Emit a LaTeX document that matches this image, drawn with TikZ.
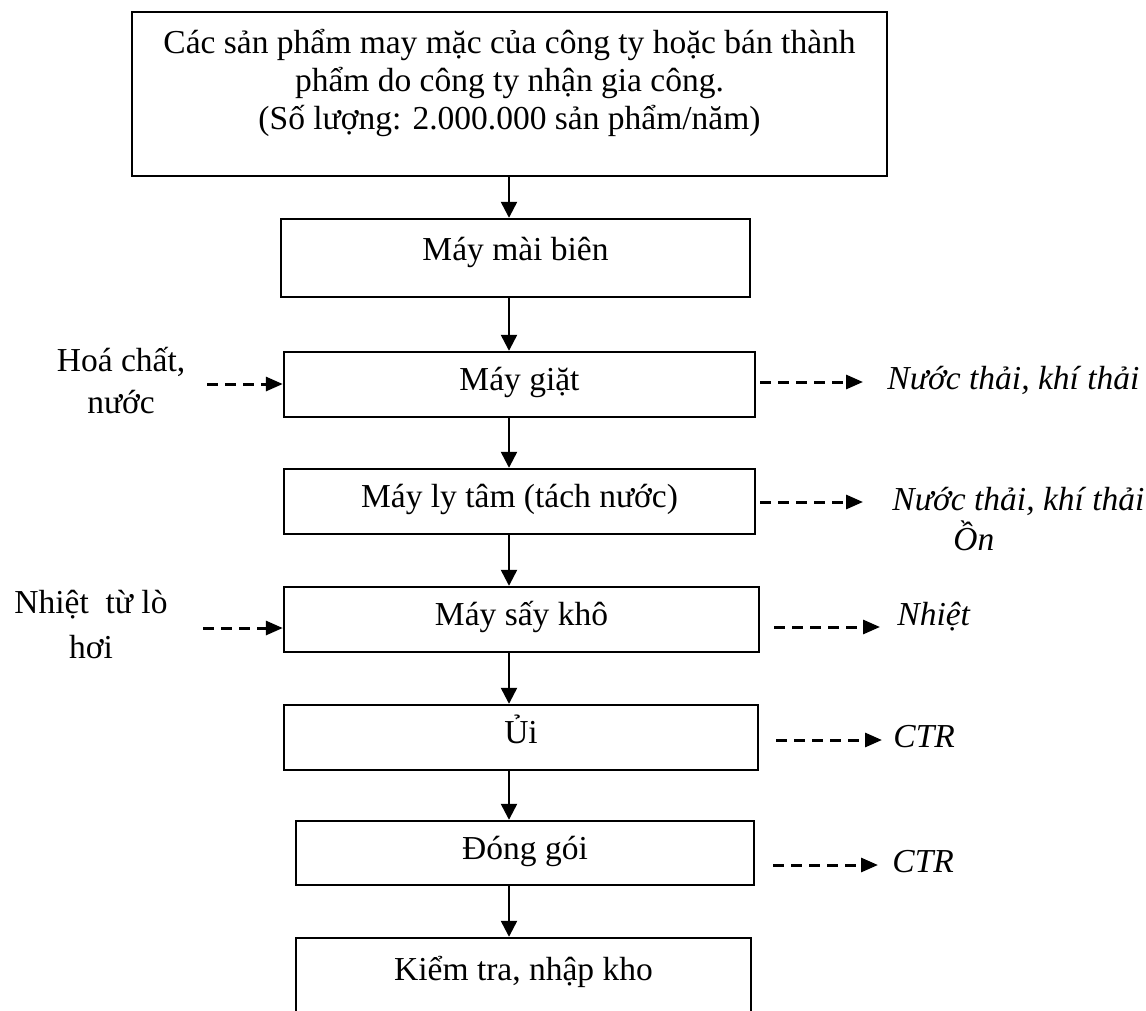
\documentclass[tikz,border=0pt]{standalone}
\usepackage{fontspec}
\setmainfont{Liberation Serif}
\usetikzlibrary{arrows.meta,calc}
\begin{document}
\begin{tikzpicture}[x=0.5pt,y=-0.5pt,
  font=\fontsize{16.75}{19.25}\selectfont,
  stage/.style={draw, line width=1.2pt, inner sep=0pt, text height=0.7em, text depth=0.1em},
  flow/.style={line width=1.2pt, -{Triangle[length=8pt,width=8pt]}},
  sidearrow/.style={line width=1.5pt, dash pattern=on 5.5pt off 3.5pt, -{Triangle[length=8.5pt,width=7pt]}},
  waste/.style={anchor=base west, inner sep=0pt, font=\fontsize{16.75}{20}\selectfont\itshape},
  feed/.style={align=center, anchor=base, inner sep=0pt},
]
\clip (0,0) rectangle (1146,1011);

% process stages
\node[stage, minimum width=377.5pt, minimum height=82pt] (b1) at (509.5,94) {};
\node[feed, font=\fontsize{16.75}{19}\selectfont] (t1) at (509.5,130)
  {Các sản phẩm may mặc của công ty hoặc bán thành\\ phẩm do công ty nhận gia công.\\ (Số lượng: 2.000.000 sản phẩm/năm)};
\node[stage, text depth=0.46em, minimum width=234.5pt, minimum height=39pt] (b2) at (515.5,258) {Máy mài biên};
\node[stage, minimum width=235.5pt, minimum height=32.5pt] (b3) at (519.5,384.5) {Máy giặt};
\node[stage, minimum width=235.5pt, minimum height=32.5pt] (b4) at (519.5,501.5) {Máy ly tâm (tách nước)};
\node[stage, minimum width=237.5pt, minimum height=32.5pt] (b5) at (521.5,619.5) {Máy sấy khô};
\node[stage, minimum width=237pt, minimum height=32.5pt] (b6) at (521,737.5) {Ủi};
\node[stage, minimum width=229pt, minimum height=32pt] (b7) at (525,853) {Đóng gói};
\node[stage, minimum width=227.5pt, minimum height=71pt] (b8) at (523.5,1009) {};
\node[anchor=base, inner sep=0pt] (t8) at (523.5,980) {Kiểm tra, nhập kho};

% main flow
\coordinate (axis) at (509,0);
\draw[flow] (b1.south -| axis) -- (b2.north -| axis);
\draw[flow] (b2.south -| axis) -- (b3.north -| axis);
\draw[flow] (b3.south -| axis) -- (b4.north -| axis);
\draw[flow] (b4.south -| axis) -- (b5.north -| axis);
\draw[flow] (b5.south -| axis) -- (b6.north -| axis);
\draw[flow] (b6.south -| axis) -- (b7.north -| axis);
\draw[flow] (b7.south -| axis) -- (b8.north -| axis);

% inputs
\node[feed, font=\fontsize{16.75}{21}\selectfont] (s1) at (121,413) {Hoá chất,\\ nước};
\node[feed, font=\fontsize{16.75}{22.5}\selectfont] (s2) at (91,658) {Nhiệt\ \ từ lò\\ hơi};
\coordinate (in1) at (207,384);
\coordinate (in2) at (203,628);
\draw[sidearrow] (in1) -- (in1 -| b3.west);
\draw[sidearrow] (in2) -- (in2 -| b5.west);

% outputs
\node[waste] (w1) at (887,389) {Nước thải, khí thải};
\node[waste, align=left] (w2) at (892,550) {Nước thải, khí thải\\\hspace*{30.5pt}Ồn};
\node[waste] (w3) at (897,625) {Nhiệt};
\node[waste] (w4) at (893,747) {CTR};
\node[waste] (w5) at (892,872) {CTR};
\coordinate (o1) at (863,382);
\coordinate (o2) at (863,502);
\coordinate (o3) at (880,627);
\coordinate (o4) at (882,740);
\coordinate (o5) at (878,865);
\draw[sidearrow] ($(o1 -| b3.east)+(4,0)$) -- (o1);
\draw[sidearrow] ($(o2 -| b4.east)+(4,0)$) -- (o2);
\draw[sidearrow] ($(o3 -| b5.east)+(14,0)$) -- (o3);
\draw[sidearrow] ($(o4 -| b6.east)+(17,0)$) -- (o4);
\draw[sidearrow] ($(o5 -| b7.east)+(18,0)$) -- (o5);
\end{tikzpicture}
\end{document}
